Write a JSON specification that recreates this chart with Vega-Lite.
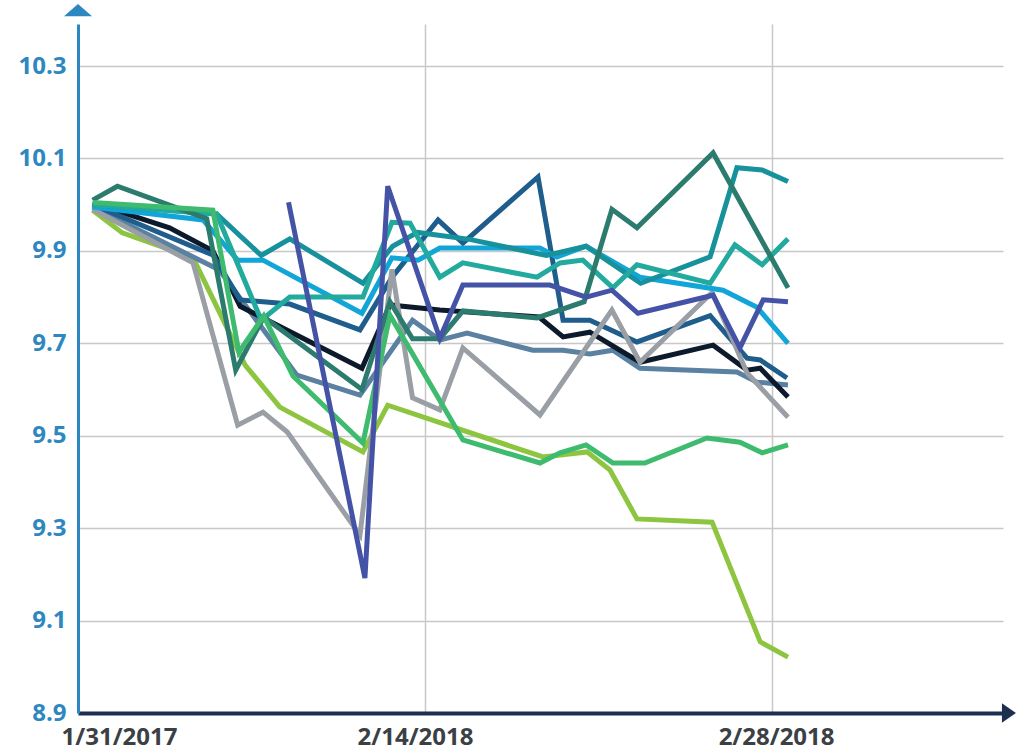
{
  "$schema": "https://vega.github.io/schema/vega-lite/v6.json",
  "width": 925,
  "height": 689,
  "autosize": "none",
  "padding": {"left": 78, "top": 24, "right": 28, "bottom": 39},
  "background": "white",
  "config": {"view": {"stroke": null}},
  "datasets": {
    "lines": [
      {"s":"yellowgreen","x":0,"v":9.988},{"s":"yellowgreen","x":1.2,"v":9.939},{"s":"yellowgreen","x":4.05,"v":9.885},{"s":"yellowgreen","x":6.15,"v":9.653},{"s":"yellowgreen","x":7.55,"v":9.562},{"s":"yellowgreen","x":10.9,"v":9.465},{"s":"yellowgreen","x":11.9,"v":9.566},{"s":"yellowgreen","x":18.16,"v":9.454},{"s":"yellowgreen","x":19.94,"v":9.465},{"s":"yellowgreen","x":20.86,"v":9.426},{"s":"yellowgreen","x":21.95,"v":9.32},{"s":"yellowgreen","x":24.98,"v":9.313},{"s":"yellowgreen","x":26.92,"v":9.054},{"s":"yellowgreen","x":28.04,"v":9.021},
      {"s":"steelblue","x":0,"v":9.995},{"s":"steelblue","x":5.1,"v":9.859},{"s":"steelblue","x":8.24,"v":9.631},{"s":"steelblue","x":10.78,"v":9.588},{"s":"steelblue","x":12.9,"v":9.75},{"s":"steelblue","x":14.0,"v":9.707},{"s":"steelblue","x":15.1,"v":9.722},{"s":"steelblue","x":17.75,"v":9.685},{"s":"steelblue","x":18.97,"v":9.685},{"s":"steelblue","x":20.05,"v":9.677},{"s":"steelblue","x":20.98,"v":9.685},{"s":"steelblue","x":22.07,"v":9.646},{"s":"steelblue","x":25.98,"v":9.638},{"s":"steelblue","x":26.79,"v":9.616},{"s":"steelblue","x":28.04,"v":9.61},
      {"s":"black","x":0,"v":10.004},{"s":"black","x":3.1,"v":9.95},{"s":"black","x":4.85,"v":9.9},{"s":"black","x":5.95,"v":9.78},{"s":"black","x":10.86,"v":9.646},{"s":"black","x":11.99,"v":9.783},{"s":"black","x":14.0,"v":9.772},{"s":"black","x":18.0,"v":9.757},{"s":"black","x":18.97,"v":9.714},{"s":"black","x":20.05,"v":9.724},{"s":"black","x":22.07,"v":9.659},{"s":"black","x":25.02,"v":9.696},{"s":"black","x":26.39,"v":9.642},{"s":"black","x":26.92,"v":9.646},{"s":"black","x":28.04,"v":9.584},
      {"s":"darkblue","x":0,"v":10.0},{"s":"darkblue","x":4.85,"v":9.891},{"s":"darkblue","x":5.95,"v":9.794},{"s":"darkblue","x":7.95,"v":9.785},{"s":"darkblue","x":10.78,"v":9.729},{"s":"darkblue","x":12.1,"v":9.845},{"s":"darkblue","x":13.93,"v":9.967},{"s":"darkblue","x":14.93,"v":9.917},{"s":"darkblue","x":17.96,"v":10.06},{"s":"darkblue","x":18.97,"v":9.75},{"s":"darkblue","x":20.05,"v":9.75},{"s":"darkblue","x":21.95,"v":9.703},{"s":"darkblue","x":24.9,"v":9.76},{"s":"darkblue","x":26.39,"v":9.668},{"s":"darkblue","x":26.92,"v":9.664},{"s":"darkblue","x":28.0,"v":9.625},
      {"s":"gray","x":0,"v":9.99},{"s":"gray","x":4.05,"v":9.874},{"s":"gray","x":5.85,"v":9.523},{"s":"gray","x":6.87,"v":9.551},{"s":"gray","x":7.85,"v":9.508},{"s":"gray","x":10.78,"v":9.285},{"s":"gray","x":12.07,"v":9.86},{"s":"gray","x":12.9,"v":9.582},{"s":"gray","x":14.0,"v":9.556},{"s":"gray","x":14.93,"v":9.69},{"s":"gray","x":18.04,"v":9.545},{"s":"gray","x":20.94,"v":9.772},{"s":"gray","x":22.07,"v":9.659},{"s":"gray","x":24.98,"v":9.81},{"s":"gray","x":26.39,"v":9.636},{"s":"gray","x":28.04,"v":9.54},
      {"s":"skyblue","x":0,"v":9.995},{"s":"skyblue","x":4.45,"v":9.967},{"s":"skyblue","x":5.85,"v":9.88},{"s":"skyblue","x":6.87,"v":9.88},{"s":"skyblue","x":10.86,"v":9.765},{"s":"skyblue","x":12.07,"v":9.885},{"s":"skyblue","x":13.12,"v":9.88},{"s":"skyblue","x":14.0,"v":9.906},{"s":"skyblue","x":18.04,"v":9.906},{"s":"skyblue","x":18.72,"v":9.887},{"s":"skyblue","x":19.9,"v":9.91},{"s":"skyblue","x":22.07,"v":9.843},{"s":"skyblue","x":25.42,"v":9.815},{"s":"skyblue","x":26.79,"v":9.778},{"s":"skyblue","x":28.04,"v":9.7},
      {"s":"teal","x":0,"v":10.0},{"s":"teal","x":5.0,"v":9.98},{"s":"teal","x":6.8,"v":9.89},{"s":"teal","x":7.95,"v":9.926},{"s":"teal","x":10.9,"v":9.83},{"s":"teal","x":12.1,"v":9.91},{"s":"teal","x":13.1,"v":9.94},{"s":"teal","x":15.2,"v":9.925},{"s":"teal","x":18.3,"v":9.89},{"s":"teal","x":19.9,"v":9.91},{"s":"teal","x":22.1,"v":9.83},{"s":"teal","x":24.9,"v":9.887},{"s":"teal","x":25.98,"v":10.08},{"s":"teal","x":27.0,"v":10.075},{"s":"teal","x":28.04,"v":10.05},
      {"s":"turquoise","x":0,"v":10.0},{"s":"turquoise","x":5.0,"v":9.98},{"s":"turquoise","x":6.8,"v":9.75},{"s":"turquoise","x":7.95,"v":9.8},{"s":"turquoise","x":10.9,"v":9.8},{"s":"turquoise","x":12.07,"v":9.962},{"s":"turquoise","x":12.8,"v":9.96},{"s":"turquoise","x":14.0,"v":9.843},{"s":"turquoise","x":14.93,"v":9.874},{"s":"turquoise","x":17.92,"v":9.843},{"s":"turquoise","x":18.85,"v":9.874},{"s":"turquoise","x":19.77,"v":9.88},{"s":"turquoise","x":20.98,"v":9.82},{"s":"turquoise","x":21.95,"v":9.87},{"s":"turquoise","x":24.9,"v":9.83},{"s":"turquoise","x":25.9,"v":9.913},{"s":"turquoise","x":27.0,"v":9.87},{"s":"turquoise","x":28.04,"v":9.926},
      {"s":"darkteal","x":0,"v":10.01},{"s":"darkteal","x":1.0,"v":10.04},{"s":"darkteal","x":4.6,"v":9.97},{"s":"darkteal","x":5.77,"v":9.642},{"s":"darkteal","x":6.9,"v":9.757},{"s":"darkteal","x":10.86,"v":9.6},{"s":"darkteal","x":11.99,"v":9.79},{"s":"darkteal","x":12.9,"v":9.71},{"s":"darkteal","x":14.0,"v":9.71},{"s":"darkteal","x":14.93,"v":9.77},{"s":"darkteal","x":17.92,"v":9.755},{"s":"darkteal","x":19.82,"v":9.79},{"s":"darkteal","x":20.94,"v":9.99},{"s":"darkteal","x":21.95,"v":9.95},{"s":"darkteal","x":25.02,"v":10.112},{"s":"darkteal","x":28.04,"v":9.82},
      {"s":"green","x":0,"v":10.005},{"s":"green","x":4.85,"v":9.988},{"s":"green","x":5.9,"v":9.681},{"s":"green","x":6.9,"v":9.759},{"s":"green","x":8.08,"v":9.629},{"s":"green","x":10.9,"v":9.484},{"s":"green","x":11.99,"v":9.761},{"s":"green","x":14.93,"v":9.491},{"s":"green","x":18.04,"v":9.441},{"s":"green","x":18.85,"v":9.463},{"s":"green","x":19.9,"v":9.48},{"s":"green","x":20.98,"v":9.441},{"s":"green","x":22.27,"v":9.441},{"s":"green","x":24.77,"v":9.495},{"s":"green","x":26.1,"v":9.486},{"s":"green","x":27.0,"v":9.463},{"s":"green","x":28.04,"v":9.48},
      {"s":"violet","x":7.9,"v":10.005},{"s":"violet","x":10.98,"v":9.192},{"s":"violet","x":11.9,"v":10.04},{"s":"violet","x":14.0,"v":9.711},{"s":"violet","x":14.93,"v":9.826},{"s":"violet","x":18.44,"v":9.826},{"s":"violet","x":19.9,"v":9.8},{"s":"violet","x":20.94,"v":9.815},{"s":"violet","x":21.99,"v":9.765},{"s":"violet","x":25.02,"v":9.804},{"s":"violet","x":26.1,"v":9.69},{"s":"violet","x":27.04,"v":9.794},{"s":"violet","x":28.04,"v":9.79}
    ],
    "arrowY": [{"x": -0.589, "v": 10.421}],
    "arrowX": [{"x": 36.95, "v": 8.9}]
  },
  "encoding": {
    "x": {
      "field": "x", "type": "quantitative",
      "scale": {"domain": [-0.589, 36.71], "nice": false, "zero": false},
      "axis": {
        "title": null,
        "values": [1.065, 13.0, 13.4, 27.4, 27.56],
        "labelExpr": "datum.value < 2 ? '1/31/2017' : (datum.value == 13 ? '2/14/2018' : (datum.value == 27.56 ? '2/28/2018' : ''))",
        "grid": true,
        "gridColor": "#c8c8c8",
        "gridWidth": 1.5,
        "gridOpacity": {"condition": {"test": "datum.value == 13.4 || datum.value == 27.4", "value": 1}, "value": 0},
        "ticks": false,
        "domainColor": "#1c2f4f",
        "domainWidth": 4,
        "labelFont": "Open Sans",
        "labelFontSize": 24,
        "labelFontWeight": "bold",
        "labelColor": "#3b4045",
        "labelPadding": 12,
        "labelOverlap": false,
        "labelFlush": false
      }
    },
    "y": {
      "field": "v", "type": "quantitative",
      "scale": {"domain": [8.9, 10.391], "nice": false, "zero": false},
      "axis": {
        "title": null,
        "values": [8.9, 9.1, 9.3, 9.5, 9.7, 9.9, 10.1, 10.3],
        "format": ".1f",
        "grid": true,
        "gridColor": "#c8c8c8",
        "gridWidth": 1.5,
        "ticks": false,
        "domainColor": "#2d87c0",
        "domainWidth": 3,
        "labelFont": "Open Sans",
        "labelFontSize": 24,
        "labelFontWeight": "bold",
        "labelColor": "#2d87c0",
        "labelPadding": 12,
        "labelOverlap": false
      }
    }
  },
  "layer": [
    {
      "data": {"name": "lines"},
      "mark": {"type": "line", "strokeWidth": 5, "strokeJoin": "miter", "clip": false},
      "encoding": {
        "color": {
          "field": "s", "type": "nominal", "legend": null,
          "scale": {
            "domain": ["yellowgreen","steelblue","black","darkblue","gray","skyblue","teal","turquoise","darkteal","green","violet"],
            "range": ["#8dc540","#5a80a2","#0d1a2b","#1e5d8c","#999fa5","#12a5d8","#17929c","#22aa9e","#2c7b6f","#3ebb6e","#4553a6"]
          }
        }
      }
    },
    {
      "data": {"name": "arrowY"},
      "mark": {"type": "point", "filled": true, "opacity": 1, "size": 784, "shape": "M-1,0.43L1,0.43L0,-0.43Z", "color": "#2d87c0", "strokeWidth": 0, "clip": false}
    },
    {
      "data": {"name": "arrowX"},
      "mark": {"type": "point", "filled": true, "opacity": 1, "size": 784, "shape": "M-0.5,-0.7L0.5,0L-0.5,0.7Z", "color": "#1c2f4f", "strokeWidth": 0, "clip": false}
    }
  ]
}
